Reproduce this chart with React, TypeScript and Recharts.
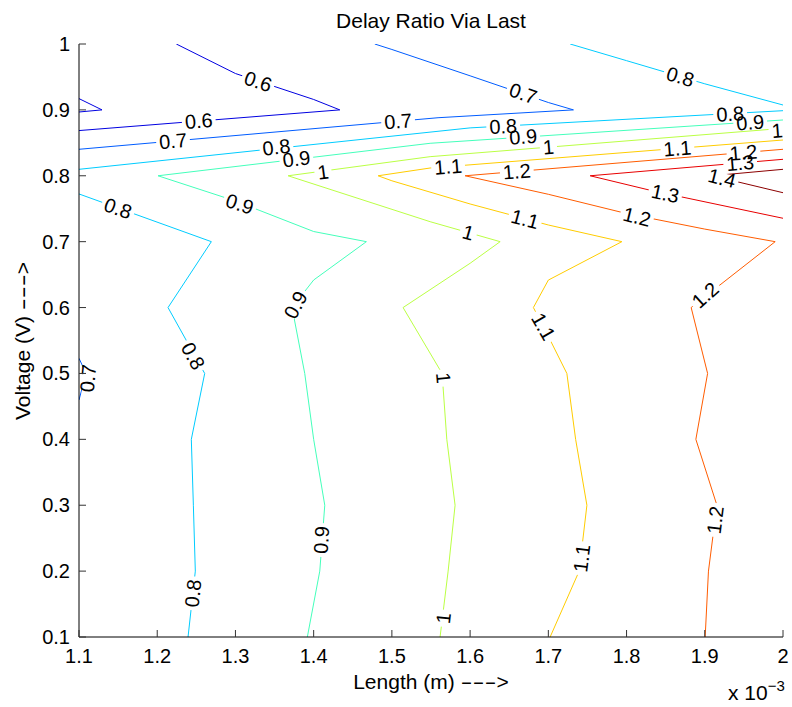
import React from "react";
import { ComposedChart, Line, Scatter, XAxis, YAxis } from "recharts";

type Pt = [number, number];

const FONT = "'Liberation Sans', Arial, Helvetica, sans-serif";

const xTicks = [1.1, 1.2, 1.3, 1.4, 1.5, 1.6, 1.7, 1.8, 1.9, 2];
const yTicks = [0.1, 0.2, 0.3, 0.4, 0.5, 0.6, 0.7, 0.8, 0.9, 1];

// contour pieces, [length (x10^-3 m), voltage]
const c06a: Pt[] = [[1.2244, 1.0], [1.3, 0.9552], [1.4, 0.9158], [1.4334, 0.9], [1.1, 0.8686]];
const c06b: Pt[] = [[1.1, 0.9171], [1.1294, 0.9], [1.1, 0.8968]];
const c07a: Pt[] = [[1.4781, 1.0], [1.5, 0.9917], [1.6, 0.9517], [1.7, 0.9112], [1.7321, 0.9], [1.559, 0.8881], [1.1, 0.8402]];
const c07b: Pt[] = [[1.1, 0.523], [1.109, 0.5], [1.1, 0.4597]];
const c08a: Pt[] = [[1.7279, 1.0], [1.8, 0.9747], [1.9, 0.9396], [2.0, 0.9074]];
const c08b: Pt[] = [[2.0, 0.8988], [1.6, 0.8727], [1.1, 0.8098]];
const c08c: Pt[] = [[1.1, 0.7724], [1.2692, 0.7], [1.2138, 0.6], [1.2607, 0.5], [1.2436, 0.4], [1.2462, 0.3], [1.2487, 0.2], [1.2394, 0.1]];
const c09: Pt[] = [[2.0, 0.8847], [1.5489, 0.8493], [1.201, 0.8], [1.3, 0.7617], [1.4, 0.7154], [1.4674, 0.7], [1.4, 0.6418], [1.3724, 0.6], [1.3886, 0.5], [1.4, 0.4], [1.4142, 0.3], [1.4078, 0.2], [1.3919, 0.1]];
const c10: Pt[] = [[2.0, 0.872], [1.5489, 0.829], [1.3673, 0.8], [1.5489, 0.7303], [1.6384, 0.7], [1.6, 0.6672], [1.5143, 0.6], [1.5642, 0.5], [1.5702, 0.4], [1.5808, 0.3], [1.5719, 0.2], [1.5616, 0.1]];
const c11: Pt[] = [[2.0, 0.8543], [1.5489, 0.8118], [1.4824, 0.8], [1.5, 0.7924], [1.6, 0.7572], [1.7, 0.7253], [1.794, 0.7], [1.7, 0.6417], [1.6809, 0.6], [1.7, 0.5563], [1.7237, 0.5], [1.7349, 0.4], [1.7493, 0.3], [1.7394, 0.2], [1.7023, 0.1]];
const c12: Pt[] = [[2.0, 0.8402], [1.5936, 0.8], [1.7, 0.7719], [1.8, 0.7427], [1.9, 0.7191], [1.99, 0.7], [1.8826, 0.6], [1.9036, 0.5], [1.8886, 0.4], [1.9155, 0.3], [1.9047, 0.2], [1.9005, 0.1]];
const c13: Pt[] = [[2.0, 0.825], [1.7535, 0.8], [1.8324, 0.7774], [2.0, 0.7355]];
const c14: Pt[] = [[2.0, 0.8098], [1.9095, 0.8], [2.0, 0.7743]];

const levels = ["0.6", "0.7", "0.8", "0.9", "1", "1.1", "1.2", "1.3", "1.4"];
const levelColors = ["#0000e0", "#005cff", "#00ccff", "#44ffbb", "#bbff44", "#ffcc00", "#ff5c00", "#e80000", "#8c0000"];
const levelPieces: Pt[][][] = [
  [c06a, c06b],
  [c07a, c07b],
  [c08a, c08b, c08c],
  [c09],
  [c10],
  [c11],
  [c12],
  [c13],
  [c14],
];

// inline labels: [text, x, y, rotation]
const labels: [string, number, number, number][] = [
  ["0.6", 1.3289, 0.9431, 18.4],
  ["0.6", 1.2531, 0.8831, -4.5],
  ["0.7", 1.2202, 0.8528, -5],
  ["0.7", 1.5079, 0.8827, -4],
  ["0.7", 1.6678, 0.925, 18.9],
  ["0.7", 1.1115, 0.4926, -85],
  ["0.8", 1.8686, 0.9504, 16.4],
  ["0.8", 1.6423, 0.8751, -3],
  ["0.8", 1.9325, 0.8938, -3],
  ["0.8", 1.3523, 0.8434, -6.3],
  ["0.8", 1.1499, 0.7506, 20],
  ["0.8", 1.2458, 0.5265, 61],
  ["0.8", 1.2458, 0.1663, -84],
  ["0.9", 1.3779, 0.8255, -6.9],
  ["0.9", 1.3055, 0.7572, 18],
  ["0.9", 1.3769, 0.6039, -62],
  ["0.9", 1.4099, 0.2472, -86],
  ["0.9", 1.6678, 0.8593, -4],
  ["0.9", 1.9581, 0.8809, -4],
  ["1", 1.412, 0.8057, -7.7],
  ["1", 1.7001, 0.8437, -4.6],
  ["1", 1.9926, 0.8687, -4.6],
  ["1", 1.5978, 0.7138, 16],
  ["1", 1.5659, 0.4931, 85],
  ["1", 1.5659, 0.1284, -83.5],
  ["1.1", 1.5719, 0.8139, -4.5],
  ["1.1", 1.865, 0.8415, -4.5],
  ["1.1", 1.6703, 0.7344, 15],
  ["1.1", 1.6938, 0.571, 60],
  ["1.1", 1.7428, 0.2195, -83],
  ["1.2", 1.6597, 0.8066, -4.8],
  ["1.2", 1.9495, 0.8352, -4.8],
  ["1.2", 1.8132, 0.7379, 13.8],
  ["1.2", 1.9005, 0.619, -42],
  ["1.2", 1.9133, 0.2776, -83],
  ["1.3", 1.9453, 0.8193, -5],
  ["1.3", 1.8494, 0.7731, 12],
  ["1.4", 1.9219, 0.7966, 14],
];

const labelData = labels.map(([text, x, y, angle]) => ({ text, x, y, angle }));

const textWidth = (s: string, size: number) =>
  s.split("").reduce((w, ch) => w + (ch === "." ? 0.278 : 0.556), 0) * size;

const LabelGap = (props: any) => {
  const { cx, cy, payload } = props;
  const w = textWidth(payload.text, 20) + 6;
  return (
    <rect
      x={-w / 2}
      y={-5}
      width={w}
      height={10}
      fill="#fff"
      transform={`translate(${cx},${cy}) rotate(${payload.angle})`}
    />
  );
};

const LabelText = (props: any) => {
  const { cx, cy, payload } = props;
  return (
    <text
      transform={`translate(${cx},${cy}) rotate(${payload.angle})`}
      textAnchor="middle"
      dominantBaseline="central"
      fontSize={20}
      fontFamily={FONT}
      fill="#000"
    >
      {payload.text}
    </text>
  );
};

const BottomTick = (props: any) => {
  const { x, y, payload } = props;
  return (
    <g>
      <line x1={x} y1={y} x2={x} y2={y - 7} stroke="#333" />
      <text x={x} y={y + 19} textAnchor="middle" dominantBaseline="central" fontSize={20} fontFamily={FONT} fill="#000">
        {String(payload.value)}
      </text>
    </g>
  );
};

const LeftTick = (props: any) => {
  const { x, y, payload } = props;
  return (
    <g>
      <line x1={x} y1={y} x2={x + 7} y2={y} stroke="#333" />
      <text x={x - 9} y={y} textAnchor="end" dominantBaseline="central" fontSize={20} fontFamily={FONT} fill="#000">
        {String(payload.value)}
      </text>
    </g>
  );
};

const TopTick = (props: any) => {
  const { x, y } = props;
  return <line x1={x} y1={y} x2={x} y2={y + 7} stroke="#333" />;
};

const RightTick = (props: any) => {
  const { x, y } = props;
  return <line x1={x} y1={y} x2={x - 7} y2={y} stroke="#333" />;
};

const Arrow = () => (
  <>
    <tspan textLength={36} lengthAdjust="spacingAndGlyphs">
      ---
    </tspan>
    &gt;
  </>
);

export default function App() {
  return (
    <div style={{ position: "absolute", left: 0, top: 0, width: 792, height: 707, background: "#fff" }}>
      <ComposedChart width={792} height={707} margin={{ top: 44, right: 9, bottom: 0, left: 0 }}>
        <XAxis
          xAxisId="b"
          dataKey="x"
          type="number"
          domain={[1.1, 2]}
          ticks={xTicks}
          interval={0}
          allowDataOverflow
          height={70}
          tickSize={0}
          tickMargin={0}
          tickLine={false}
          tick={<BottomTick />}
          axisLine={{ stroke: "#000" }}
        />
        <XAxis
          xAxisId="t"
          orientation="top"
          dataKey="x"
          type="number"
          domain={[1.1, 2]}
          ticks={xTicks}
          interval={0}
          allowDataOverflow
          height={0}
          tickSize={0}
          tickMargin={0}
          tickLine={false}
          tick={<TopTick />}
          axisLine={{ stroke: "#000" }}
        />
        <YAxis
          yAxisId="l"
          dataKey="y"
          type="number"
          domain={[0.1, 1]}
          ticks={yTicks}
          interval={0}
          allowDataOverflow
          width={79}
          tickSize={0}
          tickMargin={0}
          tickLine={false}
          tick={<LeftTick />}
          axisLine={{ stroke: "#000" }}
        />
        <YAxis
          yAxisId="r"
          orientation="right"
          dataKey="y"
          type="number"
          domain={[0.1, 1]}
          ticks={yTicks}
          interval={0}
          allowDataOverflow
          width={0}
          tickSize={0}
          tickMargin={0}
          tickLine={false}
          tick={<RightTick />}
          axisLine={{ stroke: "#000" }}
        />
        {levelPieces.map((pieces, li) =>
          pieces.map((pts, pi) => (
            <Line
              key={`c${li}-${pi}`}
              xAxisId="b"
              yAxisId="l"
              data={pts.map(([x, y]) => ({ x, y }))}
              dataKey="y"
              type="linear"
              stroke={levelColors[li]}
              strokeWidth={1}
              dot={false}
              activeDot={false}
              isAnimationActive={false}
              name={`${levels[li]}-${pi}`}
            />
          ))
        )}
        <Scatter xAxisId="b" yAxisId="l" data={labelData} dataKey="y" shape={<LabelGap />} isAnimationActive={false} />
        <Scatter xAxisId="b" yAxisId="l" data={labelData} dataKey="y" shape={<LabelText />} isAnimationActive={false} />
      </ComposedChart>
      <svg
        width={792}
        height={707}
        style={{ position: "absolute", left: 0, top: 0, pointerEvents: "none" }}
        fontFamily={FONT}
      >
        <text x={431} y={28} textAnchor="middle" fontSize={21} fill="#000">
          Delay Ratio Via Last
        </text>
        <text x={431} y={689} textAnchor="middle" fontSize={21} fill="#000">
          Length (m) <Arrow />
        </text>
        <text transform="translate(30,341) rotate(-90)" textAnchor="middle" fontSize={21} fill="#000">
          Voltage (V) <Arrow />
        </text>
        <text x={728} y={700} fontSize={21} fill="#000">
          x 10<tspan dy={-9} fontSize={15}>−3</tspan>
        </text>
      </svg>
    </div>
  );
}
